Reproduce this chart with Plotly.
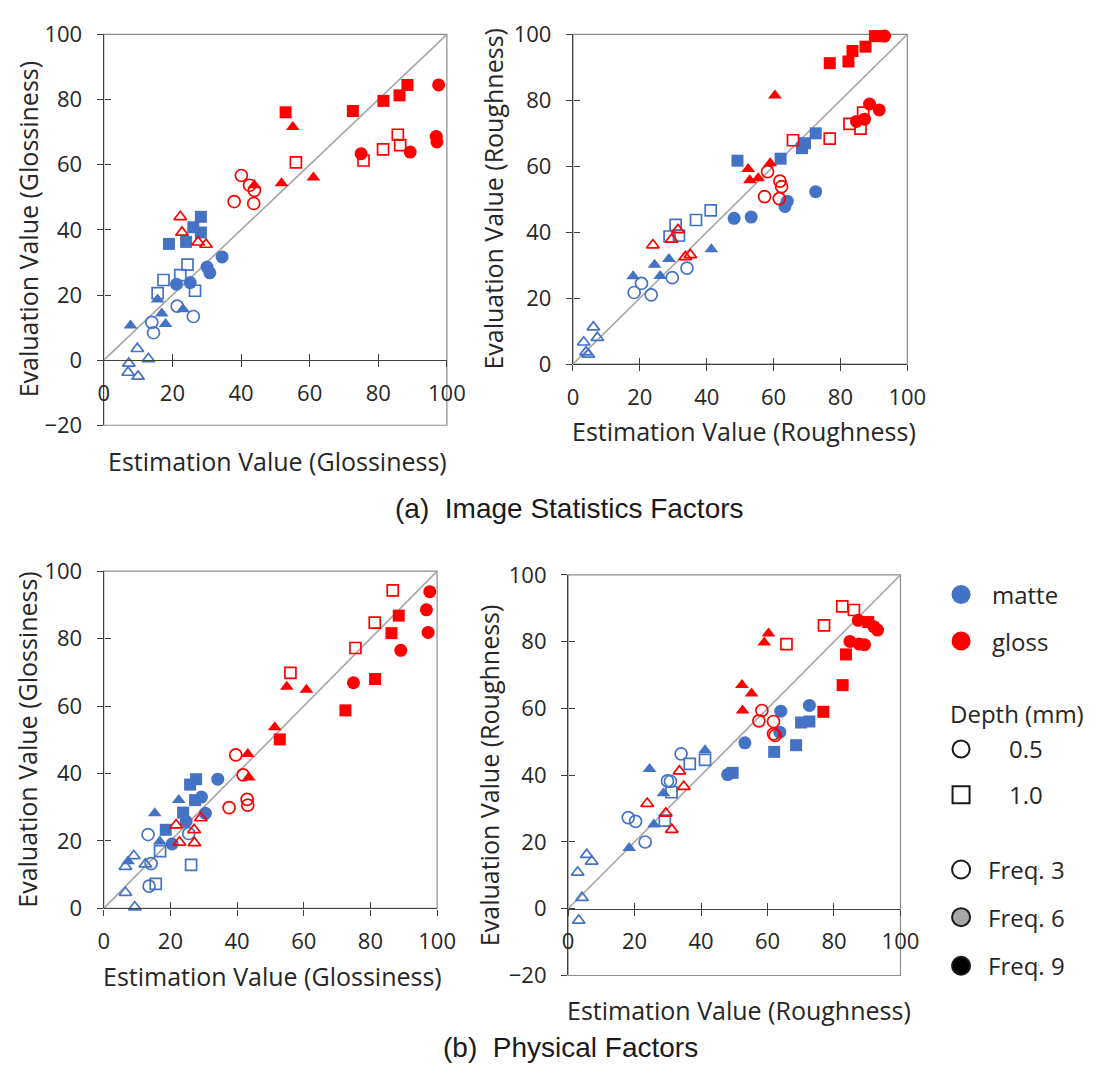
import plotly.graph_objects as go

# ------------------------------------------------------------------
# DATA
# Each panel: one list per marker group, aligned with `groups`.
# group = (material, depth in mm, frequency); depth 0.5 = circle,
# 1.0 = square, 1.5 = triangle; freq 3 = open marker, freq 9 = filled.
# ------------------------------------------------------------------
groups = [
    ("matte", "1.0", 9), ("matte", "1.0", 3),
    ("matte", "0.5", 9), ("matte", "0.5", 3),
    ("matte", "1.5", 9), ("matte", "1.5", 3),
    ("gloss", "1.0", 9), ("gloss", "1.0", 3),
    ("gloss", "0.5", 9), ("gloss", "0.5", 3),
    ("gloss", "1.5", 9), ("gloss", "1.5", 3),
]

# (a) Image statistics factors - Glossiness
a_gloss_est = [
    [28.3, 26.1, 28.3, 19.0, 24.0],
    [24.4, 17.4, 22.3, 26.6, 15.7],
    [34.5, 30.1, 30.9, 21.2, 25.2],
    [21.4, 26.1, 14.0, 14.5],
    [15.7, 16.9, 18.0, 7.8, 23.1],
    [9.8, 13.0, 7.3, 7.1, 10.0],
    [53.0, 72.6, 81.5, 86.2, 88.5],
    [56.0, 75.7, 81.4, 85.7, 86.4],
    [97.6, 75.0, 89.3, 96.9, 97.1],
    [40.1, 42.5, 43.9, 43.7, 38.0],
    [55.1, 51.8, 61.1, 43.9],
    [22.3, 22.8, 27.5, 29.8],
]
a_gloss_eval = [
    [44.0, 40.8, 39.2, 35.7, 36.3],
    [29.3, 24.6, 26.1, 21.3, 20.6],
    [31.7, 28.6, 26.8, 23.3, 23.8],
    [16.6, 13.4, 11.6, 8.4],
    [18.6, 14.3, 11.1, 10.6, 15.6],
    [3.5, 0.4, -1.0, -3.8, -5.0],
    [76.1, 76.5, 79.6, 81.3, 84.5],
    [60.7, 61.3, 64.7, 69.2, 66.0],
    [84.5, 63.4, 63.9, 68.7, 67.0],
    [56.7, 53.7, 52.1, 48.1, 48.7],
    [71.6, 54.3, 56.1, 53.7],
    [44.0, 39.2, 36.2, 35.5],
]

# (a) Image statistics factors - Roughness
a_rough_est = [
    [49.2, 62.1, 68.5, 69.4, 72.6],
    [30.7, 28.9, 31.7, 36.8, 41.2],
    [48.2, 53.3, 63.4, 64.1, 72.6],
    [20.5, 18.3, 23.4, 29.7, 34.1],
    [18.0, 24.4, 26.1, 28.7, 41.4],
    [6.1, 7.3, 3.2, 3.9, 4.6],
    [76.8, 82.4, 83.6, 87.5, 90.3, 91.5],
    [65.8, 76.8, 82.7, 86.8, 86.0],
    [84.8, 87.2, 88.7, 91.6, 93.2],
    [58.2, 61.9, 62.4, 57.3, 61.7],
    [60.4, 52.4, 52.9, 55.4, 59.0],
    [23.9, 29.5, 31.4, 33.6, 35.1],
]
a_rough_eval = [
    [61.7, 62.3, 65.5, 67.0, 70.0],
    [42.2, 38.7, 39.0, 43.7, 46.6],
    [44.2, 44.6, 47.8, 49.4, 52.3],
    [24.5, 21.7, 21.0, 26.2, 29.1],
    [26.6, 30.1, 26.7, 31.9, 34.8],
    [11.2, 8.0, 6.6, 3.6, 2.9],
    [91.3, 91.8, 95.0, 96.3, 99.5, 99.5],
    [67.9, 68.4, 72.9, 76.3, 71.4],
    [73.6, 74.3, 78.9, 77.1, 99.5],
    [58.4, 55.5, 53.8, 50.8, 50.2],
    [81.5, 59.2, 55.8, 56.4, 60.9],
    [36.1, 37.8, 40.7, 32.5, 33.1],
]

# (b) Physical factors - Glossiness
b_gloss_est = [
    [27.7, 25.9, 27.4, 23.8, 18.6],
    [26.2, 15.6, 16.9],
    [34.2, 29.3, 30.5, 20.5, 24.7],
    [13.3, 14.2, 13.6, 25.5],
    [22.5, 15.3, 16.8, 7.3],
    [9.0, 6.5, 12.5, 6.5, 9.3],
    [88.5, 86.3, 81.4, 72.5, 52.8],
    [86.7, 81.3, 75.5, 56.0],
    [97.8, 96.8, 97.3, 89.1, 74.9],
    [39.6, 41.8, 43.0, 43.2, 37.6],
    [54.9, 60.8, 51.3, 43.2, 43.5],
    [21.7, 29.1, 27.1, 27.2, 22.7],
]
b_gloss_eval = [
    [38.3, 36.7, 32.1, 28.4, 23.3],
    [12.9, 7.3, 17.0],
    [38.3, 33.0, 28.2, 19.1, 25.8],
    [21.9, 13.3, 6.6, 22.2],
    [32.1, 28.2, 19.8, 14.0],
    [15.6, 12.4, 13.1, 4.7, 0.4],
    [86.8, 81.6, 68.0, 58.7, 50.1],
    [94.3, 84.7, 77.2, 69.8],
    [93.9, 88.5, 81.8, 76.5, 66.9],
    [45.5, 39.6, 32.3, 30.6, 29.9],
    [65.7, 64.8, 53.7, 45.8, 38.8],
    [24.7, 26.8, 23.3, 19.4, 19.6],
]

# (b) Physical factors - Roughness
b_rough_est = [
    [70.1, 72.6, 68.6, 62.0, 49.5],
    [36.6, 41.2, 31.1, 29.1],
    [64.0, 72.6, 63.7, 53.2, 48.0],
    [34.0, 29.9, 30.8, 18.1, 20.3, 23.2],
    [24.5, 41.2, 28.7, 25.8, 18.4],
    [5.6, 7.1, 2.9, 4.2, 3.2],
    [83.6, 82.6, 76.8, 90.3],
    [82.5, 86.0, 77.0, 65.7],
    [87.3, 93.1, 84.8, 87.6, 89.2, 92.0],
    [58.3, 57.4, 61.8, 61.8, 62.3],
    [60.3, 59.0, 52.3, 55.2, 52.5],
    [33.5, 34.8, 23.8, 29.4, 31.2],
]
b_rough_eval = [
    [55.8, 56.1, 49.0, 47.0, 40.7],
    [43.4, 44.6, 34.9, 26.4],
    [59.2, 60.9, 52.9, 49.7, 40.2],
    [46.4, 38.3, 38.2, 27.3, 26.2, 20.0],
    [41.9, 47.5, 34.6, 25.2, 18.2],
    [16.2, 14.2, 10.9, 3.3, -3.5],
    [76.2, 67.0, 59.0, 85.9],
    [90.6, 89.5, 84.9, 79.3],
    [86.4, 83.5, 80.1, 79.3, 79.1, 84.5],
    [59.4, 56.3, 56.1, 52.4, 51.9],
    [82.5, 79.8, 67.0, 64.5, 59.4],
    [41.2, 36.6, 31.5, 28.6, 23.7],
]

diag = [0, 100]                    # 1:1 reference line
x_ticks = [0, 20, 40, 60, 80, 100]
y_ticks_full = [-20, 0, 20, 40, 60, 80, 100]

legend_material = ["matte", "gloss"]
legend_depth = ["0.5", "1.0"]
legend_freq = ["Freq. 3", "Freq. 6", "Freq. 9"]

# ------------------------------------------------------------------
# STYLE / LAYOUT
# ------------------------------------------------------------------
W, H = 1114, 1076
BLUE = "#4472C4"
RED = "#FF0000"
TXT = "#262626"
AXC = "#404040"
BOXC = "#8C8C8C"
FONT = "Open Sans"

mat_color = {"matte": BLUE, "gloss": RED}
depth_symbol = {"0.5": "circle", "1.0": "square", "1.5": "triangle-up"}
depth_size = {"0.5": 12, "1.0": 11, "1.5": 11}


def fx(px):
    return px / W


def fy(py):
    return 1 - py / H


def aref(letter, i):
    return letter if i == 1 else f"{letter}{i}"


def akey(letter, i):
    return f"{letter}axis" if i == 1 else f"{letter}axis{i}"


panels = [
    dict(est=a_gloss_est, ev=a_gloss_eval, box=(100, 451, 19, 421), yr=(-20, 100),
         xt="Estimation Value (Glossiness)", yt="Evaluation Value (Glossiness)",
         xtp=(278, 458), ytp=(22, 220)),
    dict(est=a_rough_est, ev=a_rough_eval, box=(580, 922, 19, 358), yr=(0, 100),
         xt="Estimation Value (Roughness)", yt="Evaluation Value (Roughness)",
         xtp=(755, 427), ytp=(498, 188)),
    dict(est=b_gloss_est, ev=b_gloss_eval, box=(100, 441, 571, 918), yr=(0, 100),
         xt="Estimation Value (Glossiness)", yt="Evaluation Value (Glossiness)",
         xtp=(273, 988), ytp=(22, 745)),
    dict(est=b_rough_est, ev=b_rough_eval, box=(575, 915, 575, 987), yr=(-20, 100),
         xt="Estimation Value (Roughness)", yt="Evaluation Value (Roughness)",
         xtp=(750, 1022), ytp=(494, 781)),
]

fig = go.Figure()
layout = dict(
    width=W, height=H,
    margin=dict(l=0, r=0, t=0, b=0),
    paper_bgcolor="white", plot_bgcolor="rgba(0,0,0,0)",
    showlegend=False,
    font=dict(family=FONT, color=TXT),
)
shapes = []
annotations = []

for i, p in enumerate(panels, start=1):
    x0, x1, y0, y1 = p["box"]
    ylo, yhi = p["yr"]
    yzero_px = y1 - (0 - ylo) / (yhi - ylo) * (y1 - y0)
    xa, ya = aref("x", i), aref("y", i)
    xo, yo = aref("x", i + 4), aref("y", i + 4)
    yticks = [t for t in y_ticks_full if ylo <= t <= yhi]

    common_x = dict(range=[0, 100], tickvals=x_ticks, showgrid=False, zeroline=False,
                    tickcolor=AXC, tickwidth=1.3, ticklen=6, fixedrange=True)
    common_y = dict(range=[ylo, yhi], tickvals=yticks, showgrid=False, zeroline=False,
                    tickcolor=AXC, tickwidth=1.3, ticklen=6, fixedrange=True)

    layout[akey("x", i)] = dict(
        domain=[fx(x0), fx(x1)], anchor="free", position=fy(yzero_px),
        showline=True, linecolor=AXC, linewidth=1.3, ticks="outside",
        tickfont=dict(family=FONT, size=22, color=TXT), ticklabelstandoff=7,
        **common_x)
    layout[akey("y", i)] = dict(
        domain=[fy(y1), fy(y0)], anchor=xa,
        showline=True, linecolor=AXC, linewidth=1.3, ticks="outside",
        tickfont=dict(family=FONT, size=22, color=TXT), ticklabelstandoff=10,
        **common_y)
    # overlay axes give the "cross" tick marks (inside half)
    layout[akey("x", i + 4)] = dict(
        overlaying=xa, anchor="free", position=fy(yzero_px), ticks="inside",
        showticklabels=False, showline=False, **common_x)
    layout[akey("y", i + 4)] = dict(
        overlaying=ya, anchor="free", position=fx(x0), ticks="inside",
        showticklabels=False, showline=False, **common_y)
    fig.add_trace(go.Scatter(x=[], y=[], xaxis=xo, yaxis=yo, hoverinfo="skip"))

    # plot-area frame
    shapes.append(dict(type="rect", xref=f"{xa} domain", yref=f"{ya} domain",
                       x0=0, x1=1, y0=0, y1=1, line=dict(color=BOXC, width=1.2),
                       layer="below"))

    # 1:1 line
    fig.add_trace(go.Scatter(x=diag, y=diag, mode="lines", xaxis=xa, yaxis=ya,
                             line=dict(color="#A6A6A6", width=1.6), hoverinfo="skip"))

    for (mat, depth, freq), gx, gy in zip(groups, p["est"], p["ev"]):
        sym = depth_symbol[depth]
        col = mat_color[mat]
        if freq == 3:
            marker = dict(symbol=sym + "-open", size=depth_size[depth], color=col,
                          line=dict(color=col, width=1.7))
        else:
            marker = dict(symbol=sym, size=depth_size[depth] + 1, color=col,
                          line=dict(width=0))
        fig.add_trace(go.Scatter(x=gx, y=gy, mode="markers", xaxis=xa, yaxis=ya,
                                 marker=marker, cliponaxis=False,
                                 name=f"{mat} {depth} mm f{freq}"))

    annotations.append(dict(text=p["xt"], xref="paper", yref="paper",
                            x=fx(p["xtp"][0]), y=fy(p["xtp"][1]), showarrow=False,
                            xanchor="center", yanchor="middle",
                            font=dict(family=FONT, size=25, color=TXT)))
    annotations.append(dict(text=p["yt"], xref="paper", yref="paper", textangle=-90,
                            x=fx(p["ytp"][0]), y=fy(p["ytp"][1]), showarrow=False,
                            xanchor="center", yanchor="middle",
                            font=dict(family=FONT, size=25, color=TXT)))

# full-figure pixel axes for the hand-made legend and captions
layout["xaxis9"] = dict(domain=[0, 1], range=[0, W], anchor="y9", visible=False, fixedrange=True)
layout["yaxis9"] = dict(domain=[0, 1], range=[H, 0], anchor="x9", visible=False, fixedrange=True)

leg_x = 977
leg_rows = {
    "matte": 595, "gloss": 643, "depth_title": 718, "0.5": 754, "1.0": 801,
    "Freq. 3": 878, "Freq. 6": 927, "Freq. 9": 977,
}
for mat in legend_material:
    fig.add_trace(go.Scatter(x=[leg_x], y=[leg_rows[mat]], xaxis="x9", yaxis="y9",
                             mode="markers", hoverinfo="skip", cliponaxis=False,
                             marker=dict(symbol="circle", size=19, color=mat_color[mat])))
    annotations.append(dict(text=mat, xref="x9", yref="y9", x=1007, y=leg_rows[mat],
                            xanchor="left", yanchor="middle", showarrow=False,
                            font=dict(family=FONT, size=24, color=TXT)))
annotations.append(dict(text="Depth (mm)", xref="x9", yref="y9", x=964, y=leg_rows["depth_title"],
                        xanchor="left", yanchor="middle", showarrow=False,
                        font=dict(family=FONT, size=24, color=TXT)))
for d in legend_depth:
    fig.add_trace(go.Scatter(x=[leg_x], y=[leg_rows[d]], xaxis="x9", yaxis="y9",
                             mode="markers", hoverinfo="skip", cliponaxis=False,
                             marker=dict(symbol=depth_symbol[d] + "-open", size=17,
                                         color="#1a1a1a", line=dict(color="#1a1a1a", width=2))))
    annotations.append(dict(text=d, xref="x9", yref="y9", x=1024, y=leg_rows[d],
                            xanchor="left", yanchor="middle", showarrow=False,
                            font=dict(family=FONT, size=24, color=TXT)))
freq_fill = {"Freq. 3": "white", "Freq. 6": "#A6A6A6", "Freq. 9": "#000000"}
for f in legend_freq:
    fig.add_trace(go.Scatter(x=[leg_x], y=[leg_rows[f]], xaxis="x9", yaxis="y9",
                             mode="markers", hoverinfo="skip", cliponaxis=False,
                             marker=dict(symbol="circle", size=18, color=freq_fill[f],
                                         line=dict(color="#1a1a1a", width=2))))
    annotations.append(dict(text=f, xref="x9", yref="y9", x=1002, y=leg_rows[f],
                            xanchor="left", yanchor="middle", showarrow=False,
                            font=dict(family=FONT, size=24, color=TXT)))

annotations.append(dict(text="(a)  Image Statistics Factors", xref="x9", yref="y9",
                        x=576, y=507, xanchor="center", yanchor="middle", showarrow=False,
                        font=dict(family="Liberation Sans", size=28, color="#1a1a1a")))
annotations.append(dict(text="(b)  Physical Factors", xref="x9", yref="y9",
                        x=577, y=1061, xanchor="center", yanchor="middle", showarrow=False,
                        font=dict(family="Liberation Sans", size=28, color="#1a1a1a")))

layout["shapes"] = shapes
layout["annotations"] = annotations
fig.update_layout(**layout)

fig.write_html("out.html", config={"displayModeBar": False},
               post_script="document.body.style.margin='0';document.body.style.overflow='hidden';")
